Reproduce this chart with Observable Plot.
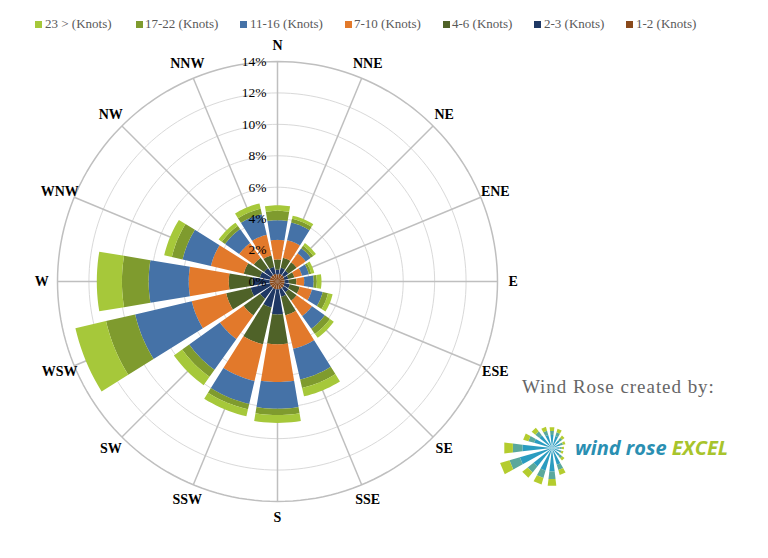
<!DOCTYPE html>
<html>
<head>
<meta charset="utf-8">
<script src="https://cdn.jsdelivr.net/npm/d3@7"></script>
<script src="https://cdn.jsdelivr.net/npm/@observablehq/plot@0.6"></script>
<style>
  html, body { margin: 0; padding: 0; background: #fff; }
  #page { position: relative; width: 768px; height: 558px; overflow: hidden; font-family: "Liberation Serif", "DejaVu Serif", serif; }
  #legend { position: relative; width: 768px; height: 40px; }
  .li { position: absolute; top: 16px; font-size: 13px; color: #595959; line-height: 16px; white-space: nowrap; }
  .sw { position: absolute; top: 21px; width: 7px; height: 7px; }
  #credit { position: absolute; left: 522px; top: 376px; font-size: 19px; color: #666; white-space: nowrap; letter-spacing: 0.95px; }
  #logo { position: absolute; left: 496px; top: 398px; }
</style>
</head>
<body>
<div id="page">
  <div id="legend"></div>
  <div id="chart"></div>
  <div id="credit">Wind Rose created by:</div>
  <div id="logo"></div>
</div>
<script>
// ---------------- data ----------------
const directions = ["N","NNE","NE","ENE","E","ESE","SE","SSE","S","SSW","SW","WSW","W","WNW","NW","NNW"];
const speedClasses = ["1-2 (Knots)","2-3 (Knots)","4-6 (Knots)","7-10 (Knots)","11-16 (Knots)","17-22 (Knots)","23 > (Knots)"];
const classColors = ["#8a4a1b","#1f3864","#4f6228","#e2792b","#4572a7","#7f9b2e","#a6c83a"];
// frequency (%) of each speed class per direction (N, NNE, ... NNW)
const knots1to2   = [0.45,0.50,0.50,0.45,0.45,0.45,0.50,0.50,0.50,0.50,0.50,0.50,0.50,0.50,0.50,0.50];
const knots2to3   = [0.30,0.40,0.35,0.25,0.27,0.35,0.35,0.50,1.60,1.20,0.85,1.25,1.10,0.65,0.55,0.45];
const knots4to6   = [0.65,0.65,0.65,0.40,0.48,0.65,0.65,1.20,1.90,2.40,1.30,1.60,1.50,1.05,0.80,0.75];
const knots7to10  = [1.25,1.15,0.70,0.50,0.50,0.80,1.20,2.20,2.40,2.40,1.85,2.25,2.55,2.15,1.15,1.35];
const knots11to16 = [1.25,1.15,0.40,0.45,0.60,0.70,1.00,2.00,1.70,1.50,2.40,3.70,2.55,1.85,1.10,1.35];
const knots17to22 = [0.60,0.25,0.20,0.15,0.20,0.35,0.40,0.55,0.40,0.35,0.55,1.90,1.70,0.70,0.25,0.35];
const knots23up   = [0.35,0.20,0.20,0.20,0.30,0.30,0.30,0.55,0.50,0.45,0.65,2.00,1.60,0.50,0.25,0.35];
const tickValues = [0,2,4,6,8,10,12,14];
const tickLabels = ["0%","2%","4%","6%","8%","10%","12%","14%"];
const maxValue = 14;

const series = [knots1to2, knots2to3, knots4to6, knots7to10, knots11to16, knots17to22, knots23up];

// ---------------- legend ----------------
const legendPos = [[35,45],[136,145],[240,250],[345,354],[443,452],[534,544],[626,636]];
const legend = document.getElementById("legend");
speedClasses.slice().reverse().forEach((name, j) => {
  const k = speedClasses.length - 1 - j;
  const sw = document.createElement("div");
  sw.className = "sw"; sw.style.left = legendPos[j][0] + "px"; sw.style.background = classColors[k];
  const t = document.createElement("div");
  t.className = "li"; t.style.left = legendPos[j][1] + "px"; t.textContent = name;
  legend.appendChild(sw); legend.appendChild(t);
});

// ---------------- geometry in data units (%) ----------------
const step = 2 * Math.PI / directions.length;
const half = 9.5 * Math.PI / 180;
const wedges = [];
directions.forEach((dir, i) => {
  let r0 = 0;
  const c = i * step;
  series.forEach((vals, k) => {
    const r1 = r0 + vals[i];
    const key = dir + "-" + k;
    const n = 10;
    for (let j = 0; j <= n; j++) {
      const a = c - half + 2 * half * j / n;
      wedges.push({key, cls: speedClasses[k], x: r1 * Math.sin(a), y: r1 * Math.cos(a)});
    }
    for (let j = n; j >= 0; j--) {
      const a = c - half + 2 * half * j / n;
      wedges.push({key, cls: speedClasses[k], x: r0 * Math.sin(a), y: r0 * Math.cos(a)});
    }
    r0 = r1;
  });
});

const ringPts = [];
tickValues.filter(v => v > 0).forEach(v => {
  for (let j = 0; j < 180; j++) {
    const a = j * 2 * Math.PI / 180;
    ringPts.push({level: v, x: v * Math.sin(a), y: v * Math.cos(a)});
  }
});
const innerRings = ringPts.filter(d => d.level < maxValue);
const outerRing = ringPts.filter(d => d.level === maxValue);

const spokes = directions.map((d, i) => ({x2: maxValue * Math.sin(i * step), y2: maxValue * Math.cos(i * step)}));

const chart = Plot.plot({
  width: 768,
  height: 518,
  marginLeft: 57,
  marginRight: 271,
  marginTop: 21,
  marginBottom: 57,
  x: {domain: [-maxValue, maxValue], axis: null},
  y: {domain: [-maxValue, maxValue], axis: null},
  color: {domain: speedClasses, range: classColors},
  style: {fontFamily: "'Liberation Serif', 'DejaVu Serif', serif", fontSize: "13px", background: "transparent", overflow: "visible"},
  marks: [
    Plot.line(innerRings, {x: "x", y: "y", z: "level", stroke: "#d9d9d9", strokeWidth: 1, curve: "linear-closed"}),
    Plot.line(outerRing, {x: "x", y: "y", z: "level", stroke: "#bfbfbf", strokeWidth: 1.5, curve: "linear-closed"}),
    Plot.link(spokes, {x1: d => 0, y1: d => 0, x2: "x2", y2: "y2", stroke: "#bfbfbf", strokeWidth: 1.5}),
    Plot.line(wedges, {x: "x", y: "y", z: "key", fill: "cls", stroke: "none", curve: "linear-closed"}),
    Plot.text(tickValues, {x: d => 0, y: d => d, text: (d, i) => tickLabels[i], dx: -11, textAnchor: "end", fill: "#000", fontSize: 13.5}),
    Plot.text(directions, {x: (d, i) => 15 * Math.sin(i * step), y: (d, i) => 15 * Math.cos(i * step), text: d => d, fontWeight: "bold", fontSize: 14, fill: "#000"})
  ]
});
document.getElementById("chart").appendChild(chart);

// ---------------- logo ----------------
const logoLens = [21,20,16,14,12,12,16,28,38,38,38,54,48,30,26,22];
const lw = 260, lh = 90, cx = 56, cy = 50;
const svg = d3.select("#logo").append("svg").attr("width", lw).attr("height", lh);
logoLens.forEach((L, i) => {
  const c = i * step, h = 6.5 * Math.PI / 180;
  const seg = (r0, r1, color) => {
    const p = [
      [cx + r0 * Math.sin(c - h), cy - r0 * Math.cos(c - h)],
      [cx + r1 * Math.sin(c - h), cy - r1 * Math.cos(c - h)],
      [cx + r1 * Math.sin(c + h), cy - r1 * Math.cos(c + h)],
      [cx + r0 * Math.sin(c + h), cy - r0 * Math.cos(c + h)]
    ];
    svg.append("path").attr("d", "M" + p.join("L") + "Z").attr("fill", color);
  };
  seg(0, L * 0.62, "#2a9cc0");
  seg(L * 0.62, L * 0.82, "#5aa89c");
  seg(L * 0.82, L, "#b4cc2e");
});
svg.append("text").attr("x", 79).attr("y", 57)
  .attr("font-family", "'Open Sans', 'DejaVu Sans', sans-serif").attr("font-style", "italic").attr("font-weight", 700)
  .attr("font-size", 20)
  .call(t => {
    t.append("tspan").attr("fill", "#2a8fb2").text("wind rose ");
    t.append("tspan").attr("fill", "#a8c42c").text("EXCEL");
  });
</script>
</body>
</html>
